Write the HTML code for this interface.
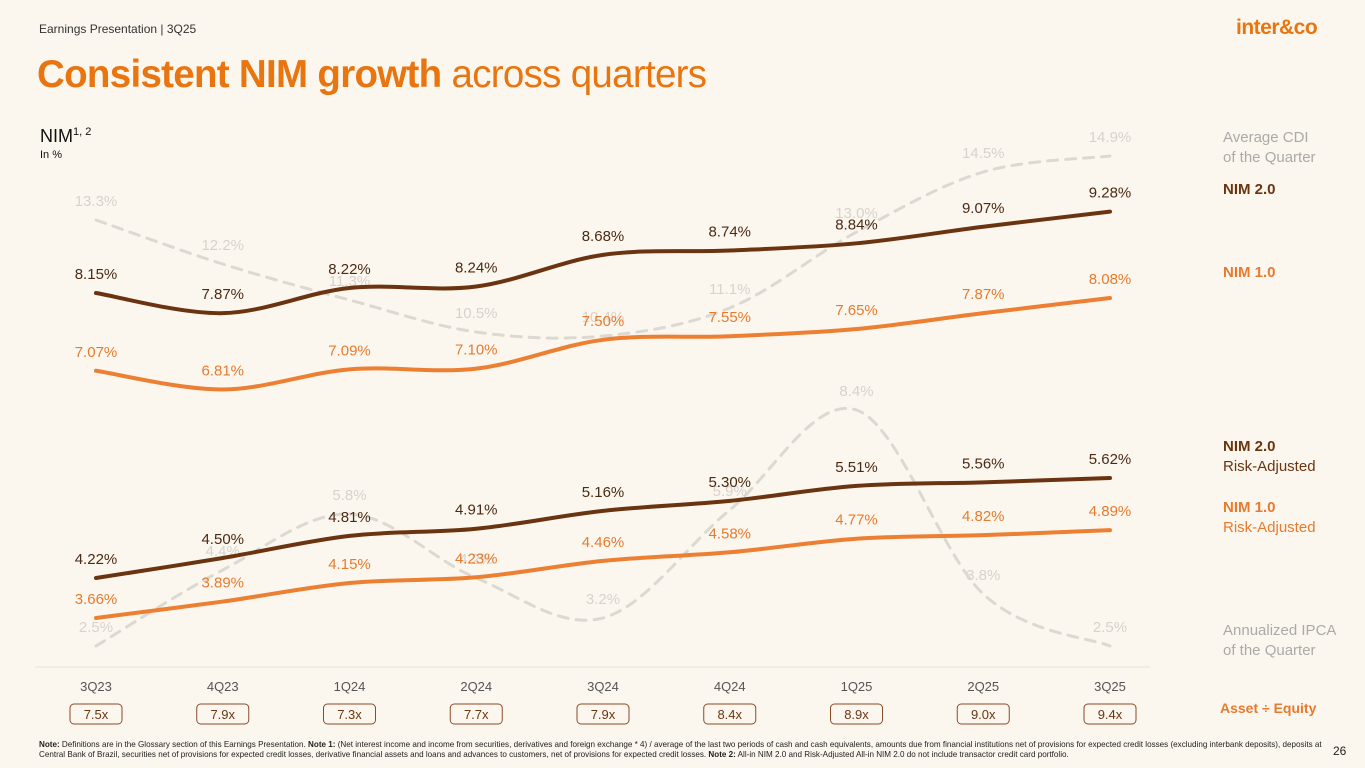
<!DOCTYPE html>
<html><head><meta charset="utf-8">
<style>
*{margin:0;padding:0;box-sizing:border-box}
body{width:1365px;height:768px;background:#FCF7EE;font-family:"Liberation Sans",sans-serif;position:relative;overflow:hidden}
.abs{position:absolute;white-space:nowrap}
.leg{font-size:15px;line-height:20px}
.foot{font-size:8.1px;color:#222;line-height:10px;left:39px;top:740px;width:1285px;white-space:normal}
</style></head><body>
<div class="abs" style="left:39px;top:22px;font-size:12px;color:#333">Earnings Presentation | 3Q25</div>
<div class="abs" style="left:1236px;top:16px;font-size:21px;font-weight:bold;color:#E8750F;letter-spacing:-0.5px">inter&amp;co</div>
<div class="abs" style="left:37px;top:53px;font-size:38.5px;color:#E8750F;letter-spacing:-0.7px"><b>Consistent NIM growth</b> across quarters</div>
<div class="abs" style="left:40px;top:126px;font-size:18px;color:#111">NIM<sup style="font-size:11px">1, 2</sup></div>
<div class="abs" style="left:40px;top:149px;font-size:11px;color:#111">In %</div>

<div class="abs leg" style="left:1223px;top:128px;color:#aaa">Average CDI<br>of the Quarter</div>
<div class="abs leg" style="left:1223px;top:180px;color:#6B3410;font-weight:bold">NIM 2.0</div>
<div class="abs leg" style="left:1223px;top:263px;color:#E87A2E;font-weight:bold">NIM 1.0</div>
<div class="abs leg" style="left:1223px;top:437px;color:#6B3410"><b>NIM 2.0</b><br>Risk-Adjusted</div>
<div class="abs leg" style="left:1223px;top:498px;color:#E87A2E"><b>NIM 1.0</b><br>Risk-Adjusted</div>
<div class="abs leg" style="left:1223px;top:621px;color:#aaa">Annualized IPCA<br>of the Quarter</div>
<div class="abs" style="left:1220px;top:700px;font-size:14px;font-weight:bold;color:#E87A2E">Asset ÷ Equity</div>

<svg class="abs" style="left:0;top:0" width="1365" height="768" id="chart"></svg>

<div class="abs foot"><b>Note:</b> Definitions are in the Glossary section of this Earnings Presentation. <b>Note 1:</b> (Net interest income and income from securities, derivatives and foreign exchange * 4) / average of the last two periods of cash and cash equivalents, amounts due from financial institutions net of provisions for expected credit losses (excluding interbank deposits), deposits at Central Bank of Brazil, securities net of provisions for expected credit losses, derivative financial assets and loans and advances to customers, net of provisions for expected credit losses. <b>Note 2:</b> All-in NIM 2.0 and Risk-Adjusted All-in NIM 2.0 do not include transactor credit card portfolio.</div>
<div class="abs" style="left:1333px;top:744px;font-size:12px;color:#222">26</div>

<script>
const quarters=["3Q23","4Q23","1Q24","2Q24","3Q24","4Q24","1Q25","2Q25","3Q25"];
const cdi=[13.3,12.2,11.3,10.5,10.4,11.1,13.0,14.5,14.9];
const nim2=[8.15,7.87,8.22,8.24,8.68,8.74,8.84,9.07,9.28];
const nim1=[7.07,6.81,7.09,7.10,7.50,7.55,7.65,7.87,8.08];
const nim2ra=[4.22,4.50,4.81,4.91,5.16,5.30,5.51,5.56,5.62];
const nim1ra=[3.66,3.89,4.15,4.23,4.46,4.58,4.77,4.82,4.89];
const ipca=[2.5,4.4,5.8,4.2,3.2,5.9,8.4,3.8,2.5];
const leverage=["7.5x","7.9x","7.3x","7.7x","7.9x","8.4x","8.9x","9.0x","9.4x"];

const NS="http://www.w3.org/2000/svg";
const svg=document.getElementById('chart');
const xS=i=>96+i*126.75;
const yUp=v=>293-(v-8.15)*72;
const yCdi=v=>220-(v-13.3)*40;
const yLow=v=>578-(v-4.22)*71.4;
const yIpca=v=>646-(v-2.5)*40;

function mk(tag,attrs){const e=document.createElementNS(NS,tag);for(const k in attrs)e.setAttribute(k,attrs[k]);svg.appendChild(e);return e;}
function smooth(pts){
  let d=`M${pts[0][0]},${pts[0][1]}`;
  for(let i=0;i<pts.length-1;i++){
    const p0=pts[i-1]||pts[i],p1=pts[i],p2=pts[i+1],p3=pts[i+2]||p2;
    const c1=[p1[0]+(p2[0]-p0[0])/6,p1[1]+(p2[1]-p0[1])/6];
    const c2=[p2[0]-(p3[0]-p1[0])/6,p2[1]-(p3[1]-p1[1])/6];
    d+=` C${c1[0]},${c1[1]} ${c2[0]},${c2[1]} ${p2[0]},${p2[1]}`;
  }
  return d;
}
function series(vals,yf,color,width,dash,name,labelColor,fmt){
  const pts=vals.map((v,i)=>[xS(i),yf(v)]);
  const p=mk('path',{d:smooth(pts),fill:'none',stroke:color,'stroke-width':width,'stroke-linecap':'round'});
  if(dash)p.setAttribute('stroke-dasharray',dash);
  
  
  vals.forEach((v,i)=>{
    const t=mk('text',{x:xS(i),y:yf(v)-14,'text-anchor':'middle','font-size':15,fill:labelColor,'font-family':'Liberation Sans, sans-serif'});
    t.textContent=fmt(v);
    
    
  });
}
const ax=mk('line',{x1:35,x2:1150,y1:667,y2:667,stroke:'#e8e2d8','stroke-width':1});



series(cdi,yCdi,'#dcd8d2',3,'10 8','cdi','#d6d3ce',v=>v.toFixed(1)+'%');
series(ipca,yIpca,'#dcd8d2',3,'10 8','ipca','#d6d3ce',v=>v.toFixed(1)+'%');
series(nim1,yUp,'#EC7F32',4,null,'nim1','#E87A2E',v=>v.toFixed(2)+'%');
series(nim2,yUp,'#6B3410',4,null,'nim2','#4a2a14',v=>v.toFixed(2)+'%');
series(nim1ra,yLow,'#EC7F32',4,null,'nim1-ra','#E87A2E',v=>v.toFixed(2)+'%');
series(nim2ra,yLow,'#6B3410',4,null,'nim2-ra','#4a2a14',v=>v.toFixed(2)+'%');

quarters.forEach((q,i)=>{
  const t=mk('text',{x:xS(i),y:691,'text-anchor':'middle','font-size':13,fill:'#555','font-family':'Liberation Sans, sans-serif'});
  t.textContent=q;
  
  
  const r=mk('rect',{x:xS(i)-26,y:704,width:52,height:20,rx:4,fill:'none',stroke:'#8B4A2A','stroke-width':1});
  
  
  const l=mk('text',{x:xS(i),y:719,'text-anchor':'middle','font-size':13,fill:'#6B3410','font-family':'Liberation Sans, sans-serif'});
  l.textContent=leverage[i];
  
  
});
</script>
</body></html>
